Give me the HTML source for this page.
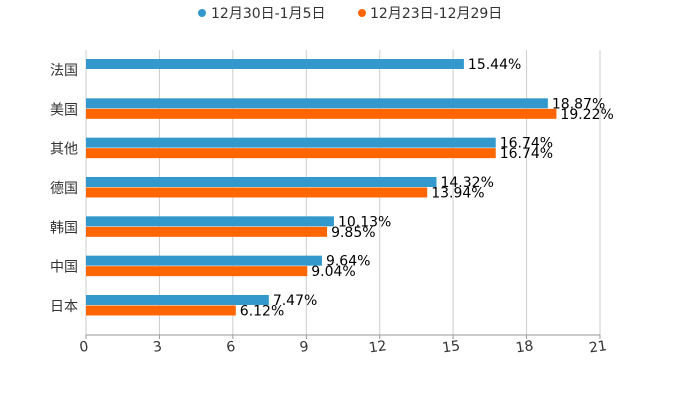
<!DOCTYPE html>
<html><head><meta charset="utf-8"><style>
body{margin:0;background:#fff}
svg text{font-family:"DejaVu Sans","Liberation Sans","Noto Sans CJK SC",sans-serif}
</style></head><body>
<svg id="chart" width="700" height="400" xmlns="http://www.w3.org/2000/svg">
<g>
 <g><circle cx="202" cy="13" r="4" fill="#3399cc"/><text x="211" y="18" font-size="14" fill="#333">12月30日-1月5日</text></g>
 <g><circle cx="362" cy="13" r="4" fill="#ff6600"/><text x="370" y="18" font-size="14" fill="#333">12月23日-12月29日</text></g>
</g>
<g id="grid"></g>
<g id="bars"></g>
<g id="axes"></g>
</svg>
<script>
const categories=["法国","美国","其他","德国","韩国","中国","日本"];
const seriesA=[15.44,18.87,16.74,14.32,10.13,9.64,7.47];
const seriesB=[null,19.22,16.74,13.94,9.85,9.04,6.12];
const ticks=[0,3,6,9,12,15,18,21];
const NS="http://www.w3.org/2000/svg";
const x0=86,x1=600,xmax=21;
const xs=v=>x0+(v/xmax)*(x1-x0);
const rowY=i=>59+i*39.33;
function mk(tag,attrs,parent){const e=document.createElementNS(NS,tag);for(const k in attrs)e.setAttribute(k,attrs[k]);parent.appendChild(e);return e;}
const grid=document.getElementById('grid'),bars=document.getElementById('bars'),axes=document.getElementById('axes');
ticks.forEach(t=>{
 const gl=mk('line',{x1:xs(t),x2:xs(t),y1:50,y2:335,stroke:'#ccc','stroke-width':1},grid);
 
 
 const tk=mk('line',{x1:xs(t),x2:xs(t),y1:335,y2:339,stroke:'#999'},axes);
 
 
 const tl=mk('text',{x:xs(t)-2,y:351,'font-size':14,fill:'#333','text-anchor':'middle',transform:`rotate(-8 ${xs(t)} 347)`},axes);
 tl.textContent=t;
 
 
});
const ax=mk('line',{x1:x0,x2:x1,y1:335,y2:335,stroke:'#999'},axes);


categories.forEach((c,i)=>{
 const y=rowY(i);
 const l=mk('text',{x:78,y:y+16,'font-size':14,fill:'#333','text-anchor':'end'},axes);
 l.textContent=c;
 
 
 [[seriesA,'#3399cc',0],[seriesB,'#ff6600',10.5]].forEach(([s,col,off])=>{
  const v=s[i]; if(v==null)return;
  const b=mk('rect',{x:x0,y:y+off,width:xs(v)-x0,height:10,fill:col},bars);
  
  
  const t=mk('text',{x:xs(v)+4,y:y+off+10,'font-size':14,fill:'#000'},bars);
  t.textContent=v.toFixed(2)+'%';
  
  
 });
});
</script>
</body></html>
